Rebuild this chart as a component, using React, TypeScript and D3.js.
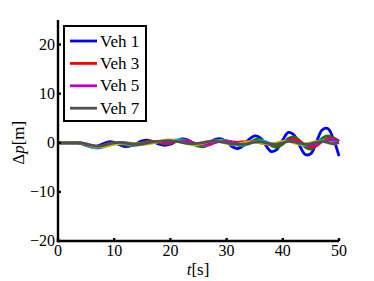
import { useEffect, useRef } from 'react';
import * as d3 from 'd3';

// time samples, 1 s apart
const TIME = d3.range(0, 51);

const VEH1 = [0, 0, 0, 0, -0.1, -0.5, -0.8, -0.7, -0.2, 0.2, 0.1, -0.4, -0.8, -0.6, -0.1, 0.4, 0.5, 0.2, -0.3, -0.5, -0.3, 0.3, 0.8, 0.6, 0, -0.5, -0.5, 0.1, 0.7, 0.8, 0.2, -0.8, -1.2, -0.6, 0.7, 1.4, 1.0, -0.6, -1.8, -1.3, 0.6, 2.1, 1.6, -0.6, -2.4, -2.2, 0.2, 2.6, 2.9, 0.8, -2.7];
const VEH2 = [0, 0, 0, 0, -0.1, -0.5, -0.9, -0.9, -0.5, -0.1, 0, -0.2, -0.5, -0.6, -0.3, 0.1, 0.3, 0.3, 0, -0.2, -0.1, 0.3, 0.6, 0.4, -0.2, -0.7, -0.8, -0.3, 0.3, 0.6, 0.4, -0.1, -0.5, -0.5, 0, 0.6, 0.7, 0.1, -0.6, -0.9, -0.3, 0.9, 1.2, 0.4, -0.9, -1.3, -0.5, 0.9, 1.4, 1.0, 0.3];
const VEH3 = [0, 0, 0, 0, 0, -0.4, -0.8, -0.9, -0.6, -0.2, 0, -0.1, -0.3, -0.5, -0.4, -0.1, 0.2, 0.3, 0.1, -0.1, 0, 0.3, 0.5, 0.4, 0, -0.4, -0.6, -0.4, 0.1, 0.4, 0.4, 0.2, 0.1, 0.2, 0.3, 0.2, 0, -0.2, -0.3, -0.4, 0, 0.6, 0.8, 0.3, -0.5, -0.9, -0.6, 0.3, 0.9, 0.8, 0.3];
const VEH4 = [0, 0, 0, 0, 0, -0.4, -0.9, -1.1, -0.9, -0.5, -0.1, 0, -0.2, -0.4, -0.5, -0.3, 0, 0.2, 0.3, 0.3, 0.5, 0.6, 0.6, 0.3, -0.1, -0.4, -0.5, -0.2, 0.2, 0.5, 0.4, 0, -0.4, -0.5, -0.2, 0.3, 0.4, 0.2, -0.2, -0.1, 0.3, 0.5, 0.3, -0.2, -0.5, -0.4, 0, 0.5, 0.6, 0.4, 0.4];
const VEH5 = [0, 0, 0, 0, 0, -0.3, -0.7, -0.9, -0.8, -0.5, -0.2, 0, 0, -0.2, -0.3, -0.3, -0.1, 0.1, 0.2, 0.1, 0.1, 0.3, 0.4, 0.3, 0, -0.3, -0.4, -0.2, 0.1, 0.3, 0.3, 0.1, -0.1, -0.2, 0, 0.2, 0.1, -0.1, -0.3, -0.2, 0.2, 0.5, 0.4, 0, -0.4, -0.6, -0.3, 0.2, 0.6, 0.6, 0.5];
const VEH6 = [0, 0, 0, 0, 0, -0.2, -0.6, -0.8, -0.8, -0.6, -0.3, -0.1, 0, -0.1, -0.2, -0.3, -0.2, 0, 0.3, 0.5, 0.6, 0.4, 0.1, -0.2, -0.4, -0.3, 0, 0.3, 0.4, 0.2, -0.1, -0.3, -0.3, 0, 0.2, 0.2, 0, -0.2, -0.2, 0, 0.3, 0.3, 0, -0.3, -0.3, 0, 0.3, 0.3, 0, -0.2, 0];
const VEH7 = [0, 0, 0, 0, 0, -0.2, -0.5, -0.7, -0.6, -0.3, 0, 0.1, 0, -0.2, -0.3, -0.2, 0, 0.2, 0.3, 0.4, 0.4, 0.3, 0.1, -0.1, -0.2, -0.1, 0.1, 0.3, 0.3, 0.2, 0, -0.2, -0.3, -0.3, -0.1, 0.2, 0.2, 0, -0.3, -0.3, 0, 0.3, 0.2, -0.1, -0.3, -0.2, 0.1, 0.3, 0.1, -0.2, 0.1];

const SERIES = [
  { name: 'Veh 1', values: VEH1, color: '#0000ff' },
  { name: 'Veh 2', values: VEH2, color: '#008000' },
  { name: 'Veh 3', values: VEH3, color: '#ff0000' },
  { name: 'Veh 4', values: VEH4, color: '#00bfbf' },
  { name: 'Veh 5', values: VEH5, color: '#bf00bf' },
  { name: 'Veh 6', values: VEH6, color: '#bfbf00' },
  { name: 'Veh 7', values: VEH7, color: '#505050' },
];
const LEGEND_NAMES = ['Veh 1', 'Veh 3', 'Veh 5', 'Veh 7'];

const X_TICKS = [0, 10, 20, 30, 40, 50];
const Y_TICKS = [-20, -10, 0, 10, 20];

const W = 374;
const H = 281;
const SERIF = 'Liberation Serif';

export default function App() {
  const svgRef = useRef<SVGSVGElement>(null);

  useEffect(() => {
    const svg = d3.select(svgRef.current);
    svg.selectAll('*').remove();

    const x = d3.scaleLinear().domain([0, 50]).range([58, 339]);
    const y = d3.scaleLinear().domain([-20, 25]).range([241, 20]);

    const line = d3.line<number>()
      .x((d, i) => x(TIME[i]))
      .y(d => y(d))
      .curve(d3.curveCatmullRom);

    // series
    svg.append('g')
      .selectAll('path')
      .data(SERIES)
      .join('path')
      .attr('d', d => line(d.values))
      .attr('fill', 'none')
      .attr('stroke', d => d.color)
      .attr('stroke-width', 2.8)
      .attr('stroke-linejoin', 'round');

    // axes
    const ax = svg.append('g').attr('stroke', '#000').attr('stroke-width', 2.4);
    ax.append('line').attr('x1', x(0)).attr('x2', x(0)).attr('y1', y(25)).attr('y2', y(-20) + 1.2);
    ax.append('line').attr('x1', x(0) - 1.2).attr('x2', x(50)).attr('y1', y(-20)).attr('y2', y(-20));
    X_TICKS.forEach(t => {
      ax.append('line').attr('x1', x(t)).attr('x2', x(t)).attr('y1', y(-20)).attr('y2', y(-20) - 3);
    });
    Y_TICKS.forEach(t => {
      ax.append('line').attr('x1', x(0)).attr('x2', x(0) + 3).attr('y1', y(t)).attr('y2', y(t));
    });

    // tick labels
    svg.append('g')
      .selectAll('text')
      .data(X_TICKS)
      .join('text')
      .attr('x', d => x(d))
      .attr('y', y(-20) + 15)
      .attr('text-anchor', 'middle')
      .attr('font-family', SERIF)
      .attr('font-size', 16)
      .text(d => String(d));

    svg.append('g')
      .selectAll('text')
      .data(Y_TICKS)
      .join('text')
      .attr('x', x(0) - 3)
      .attr('y', d => y(d) + 5)
      .attr('text-anchor', 'end')
      .attr('font-family', SERIF)
      .attr('font-size', 16)
      .text(d => (d < 0 ? '\u2212' + Math.abs(d) : String(d)));

    // axis titles
    const xt = svg.append('text')
      .attr('x', 198).attr('y', 275)
      .attr('text-anchor', 'middle')
      .attr('font-family', SERIF)
      .attr('font-size', 17);
    xt.append('tspan').attr('font-style', 'italic').text('t');
    xt.append('tspan').text('[s]');

    const yt = svg.append('text')
      .attr('transform', `translate(24,${y(0)}) rotate(-90)`)
      .attr('text-anchor', 'middle')
      .attr('font-family', SERIF)
      .attr('font-size', 17);
    yt.append('tspan').text('Δ');
    yt.append('tspan').attr('font-style', 'italic').text('p');
    yt.append('tspan').text('[m]');

    // legend
    const lg = svg.append('g');
    lg.append('rect')
      .attr('x', 64).attr('y', 26).attr('width', 82).attr('height', 95)
      .attr('fill', '#fff').attr('stroke', '#000').attr('stroke-width', 2);
    SERIES.filter(s => LEGEND_NAMES.includes(s.name)).forEach((s, i) => {
      const row = lg.append('g').attr('transform', `translate(0,${41 + i * 22.4})`);
      row.append('line').attr('x1', 70).attr('x2', 97).attr('y1', 0).attr('y2', 0)
        .attr('stroke', s.color).attr('stroke-width', 2.8);
      row.append('text').attr('x', 100).attr('y', 5.5)
        .attr('font-family', SERIF).attr('font-size', 17)
        .text(s.name);
    });
  }, []);

  return (
    <svg ref={svgRef} width={W} height={H} style={{ position: 'absolute', left: 0, top: 0, background: '#fff' }} />
  );
}
